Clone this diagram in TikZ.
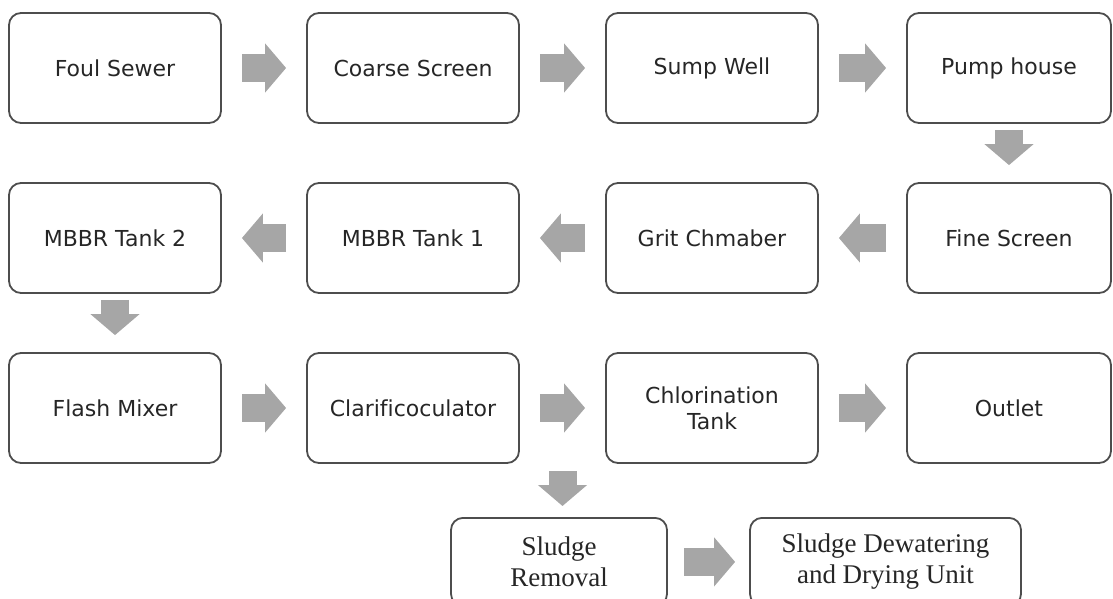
\documentclass[tikz,border=0pt]{standalone}
\usepackage{fontspec}
\usetikzlibrary{arrows.meta,calc}
\newfontfamily\unitsans[Ligatures=NoCommon]{DejaVu Sans}
\newfontfamily\unitserif{Liberation Serif}
\definecolor{A1}{RGB}{166,166,166}
\definecolor{B1}{RGB}{77,77,77}
\tikzset{
  unit/.style={draw=B1, line width=1.8pt, rounded corners=12pt, minimum width=212pt,
    minimum height=110pt, align=center, text=black!85,
    font=\unitsans\fontsize{22}{26}\selectfont},
  sludgeunit/.style={unit, minimum height=88pt, anchor=north,
    font=\unitserif\fontsize{27}{31}\selectfont},
  flow/.style={A1, line width=28pt, -{Triangle[length=21pt,width=48pt]},
    shorten <=20pt, shorten >=20pt},
  flowdown/.style={flow, shorten <=6pt, shorten >=17pt}
}
\begin{document}
\begin{tikzpicture}[x=1pt, y=-1pt]
      \useasboundingbox (0,0) rectangle (1113,599);
      \clip (0,0) rectangle (1113,599);
      \node[unit] (foul)   at (115, 68) {Foul Sewer};
      \node[unit] (coarse) at (413, 68) {Coarse Screen};
      \node[unit] (sump)   at (712, 68) {Sump Well};
      \node[unit, minimum width=204pt] (pump) at (1009, 68) {Pump house};
      \node[unit] (mbbr2)  at (115, 238) {MBBR Tank 2};
      \node[unit] (mbbr1)  at (413, 238) {MBBR Tank 1};
      \node[unit] (grit)   at (712, 238) {Grit Chmaber};
      \node[unit, minimum width=204pt] (fine) at (1009, 238) {Fine Screen};
      \node[unit] (flash)  at (115, 408) {Flash Mixer};
      \node[unit] (clar)   at (413, 408) {Clarificoculator};
      \node[unit] (chlor)  at (712, 408) {Chlorination\\Tank};
      \node[unit, minimum width=204pt] (outlet) at (1009, 408) {Outlet};
      \coordinate (split) at ($(clar.south east)!.5!(chlor.south west)$);
      \node[sludgeunit, minimum width=216pt] (sludge) at (559, 517) {Sludge\\Removal};
      \node[sludgeunit, minimum width=271pt] (dewater) at (885.5, 517) {Sludge Dewatering\\and Drying Unit};
      \draw[flow] (foul) -- (coarse);
      \draw[flow] (coarse) -- (sump);
      \draw[flow] (sump) -- (pump);
      \draw[flowdown] (pump) -- (fine);
      \draw[flow] (fine) -- (grit);
      \draw[flow] (grit) -- (mbbr1);
      \draw[flow] (mbbr1) -- (mbbr2);
      \draw[flowdown] (mbbr2) -- (flash);
      \draw[flow] (flash) -- (clar);
      \draw[flow] (clar) -- (chlor);
      \draw[flow] (chlor) -- (outlet);
      \draw[flowdown, shorten <=7pt, shorten >=11pt] (split) -- (split |- sludge.north);
      \draw[flow, shorten <=16pt, shorten >=14pt] (sludge) -- (dewater);
\end{tikzpicture}
\end{document}
